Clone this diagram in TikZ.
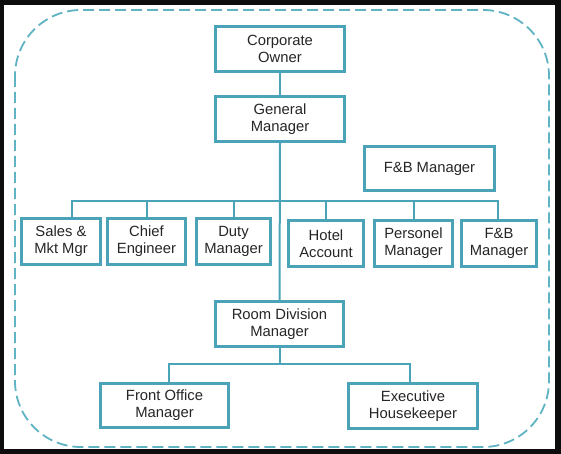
\documentclass[tikz,border=0pt]{standalone}
\usepackage{fontspec}
\setmainfont{Liberation Sans}
\definecolor{boxc}{HTML}{4AA3B6}
\definecolor{linec}{HTML}{4AA3B6}
\definecolor{dashc}{HTML}{5FB3C3}
\newcommand{\boxfont}{\fontsize{14.8}{17}\selectfont}
\tikzset{
  box/.style={draw=boxc, line width=2.8pt, fill=white, align=center, inner sep=0pt, font=\boxfont, text=black!85},
  conn/.style={draw=linec, line width=2pt},
}
\begin{document}
\begin{tikzpicture}[x=1pt,y=-1pt]
\useasboundingbox (0,0) rectangle (561,454);
\fill[black!95] (0,0) rectangle (561,454);
\fill[white] (4,5) rectangle (555,449);
\draw[dashc, line width=1.8pt, dash pattern=on 11pt off 5pt, rounded corners=66pt] (15,10) rectangle (549,447);

\node[box, minimum width=129pt, minimum height=45pt] (co) at (280,49) {Corporate\\Owner};
\node[box, minimum width=129pt, minimum height=45pt] (gm) at (280,119) {General\\Manager};
\node[box, minimum width=130pt, minimum height=44pt] (fb1) at (429.5,168.5) {F\&B Manager};

\node[box, minimum width=79pt, minimum height=46pt] (sales) at (61,241.5) {Sales \&\\Mkt Mgr};
\node[box, minimum width=78pt, minimum height=46pt] (chief) at (146.5,241.5) {Chief\\Engineer};
\node[box, minimum width=74pt, minimum height=46pt] (duty) at (233.5,241.5) {Duty\\Manager};
\node[box, minimum width=75pt, minimum height=46pt] (hotel) at (326,243.5) {Hotel\\Account};
\node[box, minimum width=78pt, minimum height=46pt] (pers) at (413.5,243.5) {Personel\\Manager};
\node[box, minimum width=75pt, minimum height=46pt] (fb2) at (499,243.5) {F\&B\\Manager};

\node[box, minimum width=128pt, minimum height=45pt] (rd) at (279.5,324) {Room Division\\Manager};
\node[box, minimum width=128pt, minimum height=44pt] (fo) at (164.5,405.5) {Front Office\\Manager};
\node[box, minimum width=129pt, minimum height=45pt] (eh) at (413,406) {Executive\\Housekeeper};

\coordinate (busL) at (72,201);
\coordinate (busR) at (498,201);
\coordinate (lowL) at (169,364);
\coordinate (lowR) at (410,364);

\draw[conn] (co.south) -- (gm.north);
\draw[conn] (gm.south) -- (rd.north);
\draw[conn] (sales.north -| busL) -- (busL) -- (busR) -- (fb2.north -| busR);
\draw[conn] (chief.north) -- (chief.north |- busL);
\draw[conn] (duty.north) -- (duty.north |- busL);
\draw[conn] (hotel.north) -- (hotel.north |- busL);
\draw[conn] (pers.north) -- (pers.north |- busL);
\draw[conn] (fo.north -| lowL) -- (lowL) -- (lowR) -- (eh.north -| lowR);
\draw[conn] (rd.south) -- (rd.south |- lowL);
\end{tikzpicture}
\end{document}
